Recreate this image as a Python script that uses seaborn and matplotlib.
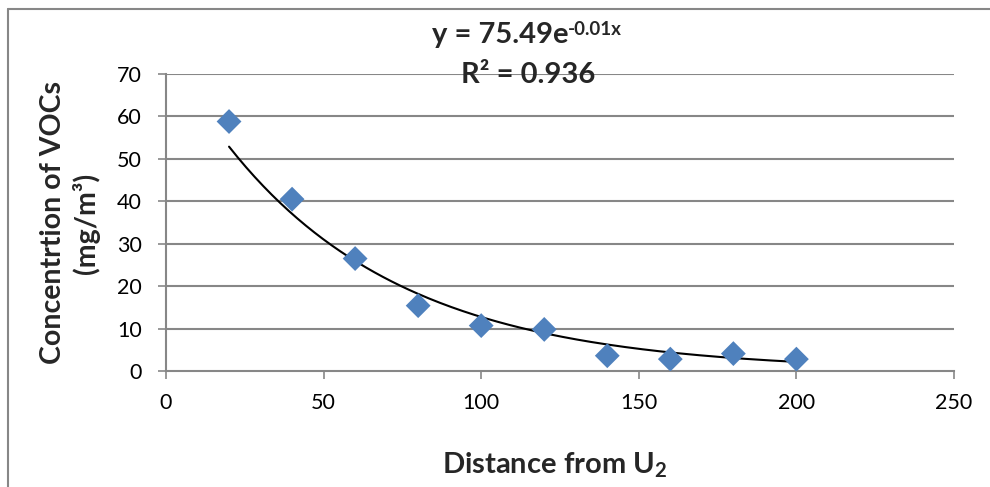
import numpy as np
import pandas as pd
import matplotlib
matplotlib.use("Agg")
import matplotlib.pyplot as plt
import seaborn as sns
from matplotlib.lines import Line2D

# Measured VOC concentration versus distance
distance = [20, 40, 60, 80, 100, 120, 140, 160, 180, 200]
concentration = [58.8, 40.5, 26.5, 15.4, 10.7, 9.8, 3.6, 2.8, 4.1, 2.8]

# Exponential trendline y = a * exp(b x)
trend_a = 75.49
trend_b = -0.0178

x_ticks = [0, 50, 100, 150, 200, 250]
y_ticks = [0, 10, 20, 30, 40, 50, 60, 70]

sns.set_theme(style="white")
plt.rcParams["font.family"] = ["Lato", "DejaVu Sans"]
plt.rcParams["mathtext.fontset"] = "custom"
plt.rcParams["mathtext.rm"] = "Lato:bold"
plt.rcParams["mathtext.it"] = "Lato:bold"
plt.rcParams["mathtext.bf"] = "Lato:bold"

W, H = 990, 487
grid_gray = "#878787"
df = pd.DataFrame({"distance": distance, "concentration": concentration})

fig = plt.figure(figsize=(W / 100, H / 100), dpi=100)
ax = fig.add_axes([166 / W, 1 - 371 / H, (954 - 166) / W, (371 - 74) / H])

for yv in y_ticks[1:]:
    ax.axhline(yv, color=grid_gray, lw=1.5, zorder=0)

xs = np.linspace(distance[0], distance[-1], 200)
ax.plot(xs, trend_a * np.exp(trend_b * xs), color="black", lw=1.5, zorder=2)

sns.scatterplot(data=df, x="distance", y="concentration", ax=ax, marker="D",
                s=160, color="#4F81BD", edgecolor="none", zorder=3, legend=False)

ax.set_xlim(0, 250)
ax.set_ylim(0, 70)
ax.set_xticks(x_ticks)
ax.set_yticks(y_ticks)
ax.tick_params(axis="both", which="both", direction="out", length=5.5, width=1.2,
               color=grid_gray, labelsize=15.5, labelcolor="black")
ax.tick_params(axis="x", bottom=True, pad=10)
ax.tick_params(axis="y", left=True, pad=12)
for side in ["top", "right"]:
    ax.spines[side].set_visible(False)
for side in ["left", "bottom"]:
    ax.spines[side].set_color(grid_gray)
    ax.spines[side].set_linewidth(1.5)
ax.set_xlabel("")
ax.set_ylabel("")

# Axis titles
fig.text(555 / W, 1 - 465 / H, "Distance from U$_2$", ha="center", va="center",
         fontsize=21, fontweight="bold")
fig.text(70 / W, 1 - 223 / H, "Concentrtion of VOCs\n(mg/m³)", ha="center",
         va="center", rotation=90, fontsize=20.5, fontweight="bold",
         linespacing=1.25, multialignment="center")

# Trendline equation and R²
eq = fig.text(568 / W, 1 - 35 / H, "y = 75.49e", ha="right", va="center",
              fontsize=21, fontweight="bold")
ax.annotate("-0.01x", xy=(1.0, 0.72), xycoords=eq, ha="left", va="center",
            fontsize=13.5, fontweight="bold", annotation_clip=False)
fig.text(528 / W, 1 - 75 / H, "R² = 0.936", ha="center", va="center",
         fontsize=21, fontweight="bold")

# Chart area border (top and left edges)
fig.add_artist(Line2D([8 / W, 1.0], [1 - 9 / H, 1 - 9 / H],
                      transform=fig.transFigure, color=grid_gray, lw=1.5))
fig.add_artist(Line2D([8 / W, 8 / W], [1 - 9 / H, 0.0],
                      transform=fig.transFigure, color=grid_gray, lw=1.5))

fig.savefig("out.png", dpi=100)
